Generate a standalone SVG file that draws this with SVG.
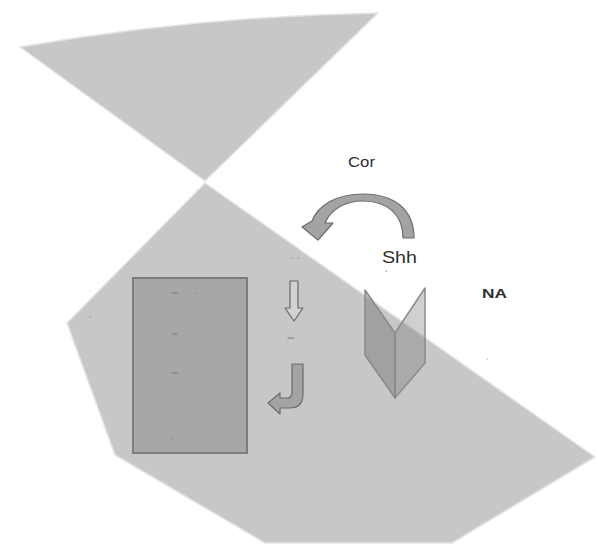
<svg xmlns="http://www.w3.org/2000/svg" width="598" height="546" viewBox="0 0 598 546">
  <style>
    .region { fill: #c7c7c7; stroke: #e4e4e4; stroke-width: 1.5; stroke-linejoin: round; }
    .block { fill: #a7a7a7; stroke: #7c7c7c; stroke-width: 2; }
    .panel { fill: #6e6e6e; stroke: #8a8a8a; stroke-width: 1.5; stroke-linejoin: round; }
    .arrow-solid { fill: #a3a3a3; stroke: #6c6c6c; stroke-width: 1.2; stroke-linejoin: round; }
    .arrow-hollow { fill: #d2d2d2; stroke: #666666; stroke-width: 1.2; stroke-linejoin: round; }
    .label { font-family: "Liberation Sans", Arial, sans-serif; fill: #2e2e2e; }
    .mark { stroke: #7a7a7a; stroke-width: 1.2; stroke-linecap: round; }
  </style>

  <rect width="598" height="546" fill="#ffffff"/>

  <!-- upper wedge -->
  <g id="upper-wedge">
    <path class="region" d="M 20 47 Q 200 16 378 13 L 205 181 Z"/>
  </g>

  <!-- lower region -->
  <g id="lower-region">
    <polygon class="region" points="205,183 595,457 452,543 265,543 115,455 67,323"/>
  </g>

  <!-- inner block -->
  <g id="block">
    <rect class="block" x="133" y="278" width="114" height="175"/>
  </g>

  <!-- folded sheet -->
  <g id="folded-sheet">
    <polygon class="panel" fill-opacity="0.42" points="365,290 395,333 395,398 365,355"/>
    <polygon class="panel" fill-opacity="0.32" points="425,288 395,333 395,398 425,363"/>
  </g>

  <!-- arrows -->
  <g id="connectors">
    <path class="arrow-solid" d="M 414 238 C 414 210 395 194 363 194 C 337 194 318 205 312 221 L 302 227 L 318 240 L 333 223 L 325 223 C 331 209 345 201 363 201 C 388 201 403 215 403 238 Z"/>
    <path class="arrow-hollow" d="M 290 281 L 298 281 L 298 308 L 303 308 L 294 321 L 285 308 L 290 308 Z"/>
    <path class="arrow-solid" d="M 292 364 L 303 364 L 303 394 Q 303 408 290 408 L 280 408 L 280 414 L 268 403 L 280 393 L 280 398 L 287 398 Q 292 398 292 392 Z"/>
  </g>

  <!-- labels -->
  <g id="labels">
    <text class="label" x="348" y="167" font-size="15" textLength="27" lengthAdjust="spacingAndGlyphs">Cor</text>
    <text class="label" x="382" y="263" font-size="17" textLength="35" lengthAdjust="spacingAndGlyphs">Shh</text>
    <text class="label" x="482" y="298" font-size="12" font-weight="bold" fill="#1e1e1e" textLength="25" lengthAdjust="spacingAndGlyphs">NA</text>
  </g>

  <!-- small tick marks -->
  <g id="ticks">
    <line class="mark" x1="172" y1="293" x2="178" y2="293"/>
    <line class="mark" x1="196" y1="293" x2="198" y2="293" stroke-opacity="0.4"/>
    <line class="mark" x1="173" y1="334" x2="177" y2="334"/>
    <line class="mark" x1="172" y1="373" x2="178" y2="373"/>
    <line class="mark" x1="172" y1="437" x2="172" y2="439" stroke-opacity="0.6"/>
    <line class="mark" x1="288" y1="338" x2="294" y2="338"/>
    <line class="mark" x1="291" y1="258" x2="292" y2="258" stroke-opacity="0.6"/>
    <line class="mark" x1="298" y1="258" x2="299" y2="258" stroke-opacity="0.6"/>
    <line class="mark" x1="386" y1="271" x2="386.5" y2="271"/>
    <line class="mark" x1="90" y1="317" x2="90.5" y2="317" stroke-opacity="0.7"/>
    <line class="mark" x1="487" y1="359" x2="487.5" y2="359" stroke-opacity="0.6"/>
  </g>
</svg>
